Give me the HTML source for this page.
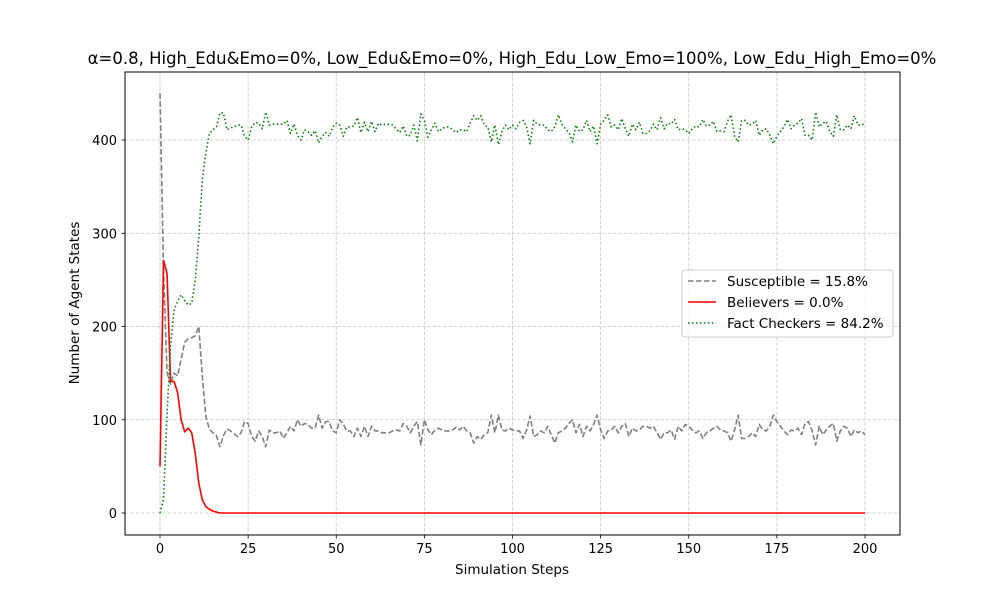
<!DOCTYPE html>
<html><head><meta charset="utf-8"><style>
html,body{margin:0;padding:0;background:#fff;}
svg{display:block;font-family:"DejaVu Sans","Liberation Sans",sans-serif;}
</style></head><body>
<svg id="chart" width="1000" height="600" viewBox="0 0 1000 600">
<rect width="1000" height="600" fill="#fff"/>
<text x="512" y="64" text-anchor="middle" font-size="16.5" fill="#000">α=0.8, High_Edu&amp;Emo=0%, Low_Edu&amp;Emo=0%, High_Edu_Low_Emo=100%, Low_Edu_High_Emo=0%</text>
<g id="grid"></g>
<g id="series"></g>
<rect x="125" y="72" width="775" height="463" fill="none" stroke="#000" stroke-width="1"/>
<g id="ticks"></g>
<text x="512" y="574" text-anchor="middle" font-size="13.5">Simulation Steps</text>
<text transform="translate(79,303) rotate(-90)" text-anchor="middle" font-size="13.5">Number of Agent States</text>
<g>
<rect x="682" y="270" width="211" height="67" rx="3" fill="#fff" fill-opacity="0.8" stroke="#ccc"/>
<line x1="688" y1="281" x2="716" y2="281" stroke="#808080" stroke-width="1.5" stroke-dasharray="5.55,2.4"/>
<text x="727" y="286" font-size="13.5">Susceptible = 15.8%</text>
<line x1="688" y1="302" x2="716" y2="302" stroke="#ff0000" stroke-width="1.5"/>
<text x="727" y="307" font-size="13.5">Believers = 0.0%</text>
<line x1="688" y1="323" x2="716" y2="323" stroke="#008000" stroke-width="1.5" stroke-dasharray="1.5,2.475"/>
<text x="727" y="328" font-size="13.5">Fact Checkers = 84.2%</text>
</g>
</svg>
<script>
const xTicks = [0,25,50,75,100,125,150,175,200];
const yTicks = [0,100,200,300,400];
const susceptible = [450,260,150,138,150,147,165,183,187,188,190,200,147,104,90,86,83,71,83,90,88,85,82,86,98,96,82,77,
88,82,71,89,86,86,88,80,86,93,88,100,93,96,95,91,91,105,91,98,98,88,86,100,95,88,88,82,91,82,93,82,93,88,88,86,86,86,88,89,88,96,93,86,93,98,73,100,89,84,89,91,89,88,88,89,92,89,
93,88,86,75,82,79,84,86,105,86,105,89,88,91,89,88,88,80,89,104,82,84,88,86,93,84,75,86,88,91,96,100,86,95,82,93,88,95,105,89,80,88,89,93,86,93,96,82,91,88,89,93,93,91,93,86,79,86,
86,89,79,93,88,95,93,89,86,88,80,86,88,91,93,89,88,86,77,89,105,80,80,82,86,82,95,89,88,93,105,98,93,88,84,89,88,91,84,96,98,88,73,93,84,89,93,96,77,88,93,91,82,89,86,88,84];
const believers = [50,271,257,141,141,129,100,87,91,86,64,32,14,7,4,2,1,
0,0,0,0,0,0,0,0,0,0,
0,0,0,0,0,0,0,0,0,0,
0,0,0,0,0,0,0,0,0,0,
0,0,0,0,0,0,0,0,0,0,
0,0,0,0,0,0,0,0,0,0,
0,0,0,0,0,0,0,0,0,0,
0,0,0,0,0,0,0,0,0,0,
0,0,0,0,0,0,0,0,0,0,
0,0,0,0,0,0,0,0,0,0,
0,0,0,0,0,0,0,0,0,0,
0,0,0,0,0,0,0,0,0,0,
0,0,0,0,0,0,0,0,0,0,
0,0,0,0,0,0,0,0,0,0,
0,0,0,0,0,0,0,0,0,0,
0,0,0,0,0,0,0,0,0,0,
0,0,0,0,0,0,0,0,0,0,
0,0,0,0,0,0,0,0,0,0,
0,0,0,0,0,0,0,0,0,0,
0,0,0,0];
const factCheckers = [0,15,107,180,218,227,234,228,223,225,250,296,357,386,407,411,414,429,429,411,413,414,416,416,404,400,414,419,
418,412,430,416,417,417,417,417,421,407,417,405,400,411,409,405,410,397,404,408,404,414,418,416,404,414,414,415,424,408,419,409,420,409,418,416,417,417,416,412,408,415,404,405,416,399,428,421,403,411,418,409,412,414,414,411,408,411,
411,409,418,426,421,426,416,414,398,416,395,409,416,411,416,412,419,421,414,396,421,417,416,416,411,409,414,427,417,412,408,398,416,409,411,421,409,415,396,417,421,427,414,416,411,423,412,404,417,411,419,407,407,410,417,411,424,412,
418,417,422,411,412,411,407,412,415,414,422,415,416,420,409,410,409,420,427,404,398,421,421,416,417,421,405,411,412,405,396,404,409,414,422,412,416,418,423,405,405,400,430,414,418,420,409,404,427,411,411,416,412,426,416,416,418];

const NS = 'http://www.w3.org/2000/svg';
const xs = v => 160 + v * 3.525;
const ys = v => 513 - v * 0.9325;
function mk(tag, attrs){const e=document.createElementNS(NS,tag);for(const k in attrs)e.setAttribute(k,attrs[k]);return e;}
const grid=document.getElementById('grid'), ticks=document.getElementById('ticks'), series=document.getElementById('series');
xTicks.forEach(t=>{
  const g=mk('line',{x1:xs(t),x2:xs(t),y1:72,y2:535,stroke:'#b0b0b0','stroke-opacity':0.7,'stroke-dasharray':'3.7,1.6','stroke-width':0.8});
  
  
  grid.appendChild(g);
  const tk=mk('line',{x1:xs(t),x2:xs(t),y1:535,y2:538.5,stroke:'#000','stroke-width':0.8});
  
  
  ticks.appendChild(tk);
  const tx=mk('text',{x:xs(t),y:553,'text-anchor':'middle','font-size':13});
  tx.textContent=t;
  
  
  ticks.appendChild(tx);
});
yTicks.forEach(t=>{
  const g=mk('line',{x1:125,x2:900,y1:ys(t),y2:ys(t),stroke:'#b0b0b0','stroke-opacity':0.7,'stroke-dasharray':'3.7,1.6','stroke-width':0.8});
  
  
  grid.appendChild(g);
  const tk=mk('line',{x1:121.5,x2:125,y1:ys(t),y2:ys(t),stroke:'#000','stroke-width':0.8});
  
  
  ticks.appendChild(tk);
  const tx=mk('text',{x:117,y:ys(t)+5,'text-anchor':'end','font-size':13});
  tx.textContent=t;
  
  
  ticks.appendChild(tx);
});
function line(arr,color,dash){
  const d=arr.map((v,i)=>(i?'L':'M')+xs(i).toFixed(2)+','+ys(v).toFixed(2)).join('');
  const a={d:d,fill:'none',stroke:color,'stroke-width':1.6,'stroke-linejoin':'round'};
  if(dash)a['stroke-dasharray']=dash;
  return mk('path',a);
}
const p1=line(susceptible,'#808080','5.55,2.4');


series.appendChild(p1);
const p2=line(believers,'#ff0000',null);


series.appendChild(p2);
const p3=line(factCheckers,'#008000','1.5,2.475');


series.appendChild(p3);
</script>
</body></html>
